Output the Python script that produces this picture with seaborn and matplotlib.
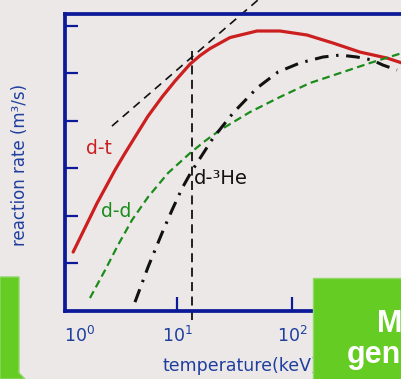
import matplotlib
matplotlib.use('Agg')
import matplotlib.pyplot as plt
import seaborn as sns
import pandas as pd
from matplotlib.patches import Rectangle, Polygon

# reaction rates <sigma v> (m^3/s) against temperature (keV)
dt_temp = [1.25, 2.02, 2.89, 3.41, 4.31, 5.60, 7.41, 9.61, 13.0, 15.9, 19.4,
           28.9, 49.6, 78.6, 135, 227, 390, 670, 905]
dt_rate = [1.71e-26, 1.85e-25, 9.16e-25, 1.81e-24, 4.55e-24, 1.26e-23, 3.18e-23,
           6.91e-23, 1.58e-22, 2.39e-22, 3.35e-22, 5.71e-22, 7.85e-22, 7.85e-22,
           6.46e-22, 4.38e-22, 2.82e-22, 2.11e-22, 1.66e-22]

dd_temp = [1.75, 2.37, 3.07, 4.06, 5.60, 8.35, 13.0, 17.5, 23.7, 43.1, 78.6,
           143, 262, 477, 905]
dd_rate = [1.83e-27, 7.11e-27, 2.40e-26, 8.07e-26, 2.47e-25, 7.92e-25, 2.09e-24,
           3.75e-24, 6.40e-24, 1.53e-23, 3.18e-23, 6.27e-23, 1.02e-22, 1.66e-22,
           2.69e-22]

dhe_temp = [4.31, 5.60, 7.41, 9.05, 11.1, 13.2, 15.9, 20.6, 30.7, 49.6, 75.5,
            117, 186, 262, 367, 496, 618, 819]
dhe_rate = [1.50e-27, 8.24e-27, 4.30e-26, 1.31e-25, 3.82e-25, 8.11e-25, 1.64e-24,
            4.34e-24, 1.46e-23, 4.92e-23, 1.07e-22, 1.66e-22, 2.22e-22, 2.44e-22,
            2.22e-22, 1.92e-22, 1.50e-22, 1.18e-22]

# guide lines: tangent to d-t and the vertical marker
tangent_temp = [2.72, 50.6]
tangent_rate = [7.76e-24, 3.54e-21]
marker_temp = 13.5
marker_rate = [6.3e-28, 3.4e-22]

yticks = [1e-26, 1e-25, 1e-24, 1e-23, 1e-22, 1e-21]
xticks = [10, 100]
xticklabels = ['$10^1$', '$10^2$']

bg = '#ede8e8'
navy = '#0c1a99'
blue = '#1f3f9f'
green_box = '#64cc22'

sns.set_style('white', {'axes.facecolor': bg, 'figure.facecolor': bg})
plt.rcParams['font.family'] = ['DejaVu Sans']

fig = plt.figure(figsize=(4.02, 3.79), dpi=100)
ax = fig.add_axes([65 / 402, 1 - 310.5 / 379, 375 / 402, 297 / 379])
ax.set_xscale('log')
ax.set_yscale('log')

dt = pd.DataFrame({'T': dt_temp, 'rate': dt_rate})
dd = pd.DataFrame({'T': dd_temp, 'rate': dd_rate})
dhe = pd.DataFrame({'T': dhe_temp, 'rate': dhe_rate})

sns.lineplot(data=dt, x='T', y='rate', ax=ax, color='#cc1f1f', lw=2.3,
             estimator=None, sort=False)
sns.lineplot(data=dd, x='T', y='rate', ax=ax, color='#1a8c1a', lw=1.6,
             linestyle=(0, (3.5, 2)), estimator=None, sort=False)
sns.lineplot(data=dhe, x='T', y='rate', ax=ax, color='#111111', lw=2.2,
             linestyle=(0, (4.5, 2.5, 0.8, 2.5)), estimator=None, sort=False)

ax.plot(tangent_temp, tangent_rate, color='#111111', lw=1.2,
        linestyle=(0, (5, 3.5)), clip_on=False)
ax.plot([marker_temp, marker_temp], marker_rate, color='#111111', lw=1.3,
        linestyle=(0, (5, 3)), clip_on=False)

ax.text(2.10, 2.67e-24, 'd-t', color='#cc1f1f', fontsize=13.5,
        ha='center', va='center')
ax.text(2.95, 1.25e-25, 'd-d', color='#1a8c1a', fontsize=13.5,
        ha='center', va='center')
ax.text(14.05, 6.21e-25, 'd-³He', color='#111111', fontsize=14,
        ha='left', va='center')

ax.set_xlim(1.062, 1936)
ax.set_ylim(1e-27, 10 ** -20.736)
ax.set_yticks(yticks)
ax.set_xticks(xticks)
ax.set_xticklabels(xticklabels)
ax.minorticks_off()

for side in ['left', 'top', 'bottom']:
    ax.spines[side].set_color(navy)
    ax.spines[side].set_linewidth(2.7)
ax.spines['right'].set_visible(False)

ax.tick_params(axis='y', direction='in', length=9, width=1.6, color=navy,
               labelleft=False, left=True)
ax.tick_params(axis='x', direction='in', length=10, width=1.6, color=navy,
               labelsize=12.5, labelcolor=blue, pad=11, bottom=True)
ax.annotate('$10^0$', xy=(1.41, 0), xycoords=('data', 'axes fraction'),
            xytext=(0, -11), textcoords='offset points', ha='center', va='top',
            fontsize=12.5, color=blue, annotation_clip=False)

ax.set_xlabel('temperature(keV)', fontsize=12.5, color=blue)
ax.xaxis.set_label_coords(0.467, -0.155)
ax.set_ylabel('reaction rate (m³/s)', fontsize=12, color=blue)
ax.yaxis.set_label_coords(-0.096, 0.49)

# green boxes from the slide that cover the chart corners
fig.add_artist(Rectangle((313 / 402, -0.01), 0.25, 101 / 379 + 0.01,
                         transform=fig.transFigure, facecolor=green_box,
                         edgecolor='#8fd866', lw=1, zorder=5))
left_box = [(0, 277), (19, 277), (19, 373), (25, 379), (0, 379)]
fig.add_artist(Polygon([(x / 402, 1 - y / 379) for x, y in left_box],
                       closed=True, transform=fig.transFigure,
                       facecolor=green_box, edgecolor='#8fd866', lw=1, zorder=5))
fig.text(377 / 402, 1 - 332 / 379, 'M', color='white', fontsize=22,
         fontweight='bold', family='Liberation Sans', zorder=6)
fig.text(347 / 402, 1 - 363 / 379, 'gen', color='white', fontsize=22,
         fontweight='bold', family='Liberation Sans', zorder=6)

fig.savefig('out.png', dpi=100, facecolor=bg)
